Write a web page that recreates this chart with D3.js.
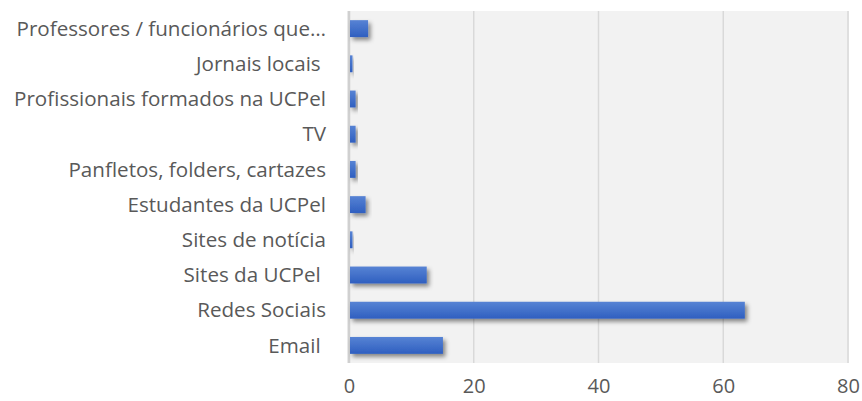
<!DOCTYPE html>
<html>
<head>
<meta charset="utf-8">
<script src="https://cdn.jsdelivr.net/npm/d3@7"></script>
<style>
  body { margin: 0; background: #fff; }
  text { font-family: "Open Sans", sans-serif; fill: #595959; }
</style>
</head>
<body>
<div id="chart"></div>
<script>
// categories, top to bottom
var categories = [
    "Professores / funcionários que…",
    "Jornais locais ",
    "Profissionais formados na UCPel",
    "TV",
    "Panfletos, folders, cartazes",
    "Estudantes da UCPel",
    "Sites de notícia",
    "Sites da UCPel ",
    "Redes Sociais",
    "Email "
];
var values = [2.9, 0.4, 0.9, 0.9, 0.9, 2.5, 0.4, 12.3, 63.3, 14.9];
var tickValues = [0, 20, 40, 60, 80];

var svgWidth = 862;
var svgHeight = 401;

var margin = {
    top: 11,
    right: 14,
    bottom: 38,
    left: 349
};

var width = svgWidth - margin.left - margin.right;
var height = svgHeight - margin.top - margin.bottom;

var svg = d3.select("#chart")
    .append("svg")
    .attr("width", svgWidth)
    .attr("height", svgHeight);

// gradient + shadow for the bars
var defs = svg.append("defs");
var grad = defs.append("linearGradient")
    .attr("id", "barGrad")
    .attr("x1", 0).attr("y1", 0)
    .attr("x2", 0).attr("y2", 1);
grad.append("stop").attr("offset", "0%").attr("stop-color", "#5783d4");
grad.append("stop").attr("offset", "100%").attr("stop-color", "#2f5fc0");

var shadow = defs.append("filter")
    .attr("id", "shadow")
    .attr("x", "-20%").attr("y", "-40%")
    .attr("width", "160%").attr("height", "200%");
shadow.append("feDropShadow")
    .attr("dx", 2.5)
    .attr("dy", 3)
    .attr("stdDeviation", 2)
    .attr("flood-color", "#000")
    .attr("flood-opacity", 0.45);

var chartGroup = svg.append("g")
    .attr("transform", `translate(${margin.left}, ${margin.top})`);

var xLinearScale = d3.scaleLinear()
    .domain([0, 80])
    .range([0, width]);

var yBandScale = d3.scaleBand()
    .domain(categories)
    .range([0, height])
    .paddingInner(0.52)
    .paddingOuter(0.26);

// plot background
chartGroup.append("rect")
    .attr("x", -2)
    .attr("y", 0)
    .attr("width", width + 3)
    .attr("height", height)
    .attr("fill", "#f2f2f2");

// gridlines
chartGroup.selectAll(".grid")
    .data(tickValues)
    .enter()
    .append("line")
    .attr("class", "grid")
    .attr("x1", d => xLinearScale(d))
    .attr("x2", d => xLinearScale(d))
    .attr("y1", 0)
    .attr("y2", height)
    .attr("stroke", d => d === 0 ? "#d0d0d0" : "#d9d9d9")
    .attr("stroke-width", d => d === 0 ? 2.5 : 1.5);

// bars
chartGroup.selectAll(".bar")
    .data(values)
    .enter()
    .append("rect")
    .attr("class", "bar")
    .attr("x", xLinearScale(0) + 1)
    .attr("y", (d, i) => yBandScale(categories[i]))
    .attr("width", d => xLinearScale(d))
    .attr("height", yBandScale.bandwidth())
    .attr("fill", "url(#barGrad)")
    .attr("filter", "url(#shadow)");

// category labels
chartGroup.selectAll(".cat")
    .data(categories)
    .enter()
    .append("text")
    .attr("class", "cat")
    .attr("x", -23)
    .attr("y", d => yBandScale(d) + yBandScale.bandwidth() / 2)
    .attr("dy", "0.35em")
    .attr("text-anchor", "end")
    .style("white-space", "pre")
    .style("font-size", "20.6px")
    .text(d => d);

// x axis labels
var bottomAxis = d3.axisBottom(xLinearScale)
    .tickValues(tickValues)
    .tickSize(0)
    .tickPadding(16);

var xAxis = chartGroup.append("g")
    .attr("transform", `translate(0, ${height})`)
    .call(bottomAxis);
xAxis.select(".domain").remove();
xAxis.selectAll("text")
    .attr("fill", "#595959")
    .style("font-family", "'Open Sans', sans-serif")
    .style("font-size", "20px");
</script>
</body>
</html>
